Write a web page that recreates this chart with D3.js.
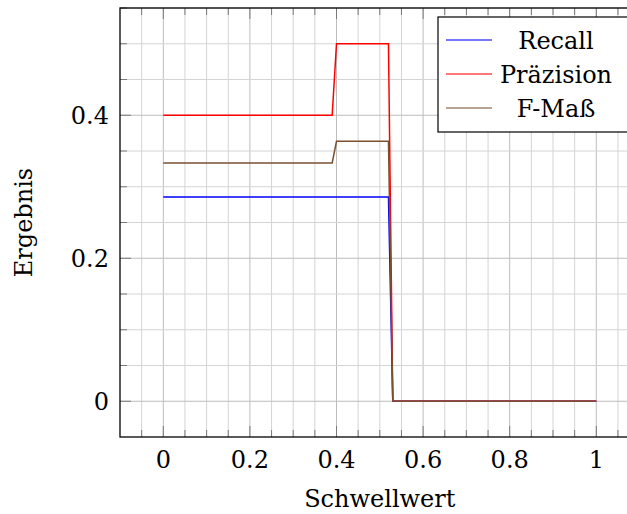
<!DOCTYPE html>
<html>
<head>
<meta charset="utf-8">
<script src="https://cdn.jsdelivr.net/npm/d3@7"></script>
<style>
  body { margin: 0; background: #fff; }
  svg text { font-family: "DejaVu Serif", serif; fill: #000; }
</style>
</head>
<body>
<div id="chart"></div>
<script>
// Schwellwert breakpoints and series values
const thresholds = [0, 0.39, 0.40, 0.52, 0.53, 1];
const recall = [0.2857, 0.2857, 0.2857, 0.2857, 0, 0];
const precision = [0.4, 0.4, 0.5, 0.5, 0, 0];
const fMeasure = [0.3333, 0.3333, 0.3636, 0.3636, 0, 0];

const xTicks = [0, 0.2, 0.4, 0.6, 0.8, 1];
const yTicks = [0, 0.2, 0.4];
const seriesNames = ["Recall", "Präzision", "F-Maß"];
const seriesColors = ["#0000ff", "#ff0000", "#7a5030"];

const width = 627;
const height = 514;
const plotLeft = 120, plotTop = 8, plotBottom = 437;

const xScale = d3.scaleLinear().domain([-0.1, 1.1]).range([plotLeft, plotLeft + 433 * 1.2]);
const yScale = d3.scaleLinear().domain([-0.05, 0.55]).range([plotBottom, plotTop]);
const plotRight = xScale(1.1);

const svg = d3.select("#chart").append("svg")
  .attr("width", width)
  .attr("height", height);

// minor + major grid every 0.05
const xMinor = d3.range(-0.05, 1.1, 0.05).map((d) => +d.toFixed(2));
const yMinor = d3.range(-0.05, 0.55, 0.05).map((d) => +d.toFixed(2)).filter((d) => d > -0.05);
const isMajor = (d) => Math.abs(d / 0.2 - Math.round(d / 0.2)) < 1e-6;

const grid = svg.append("g").attr("class", "grid");
grid.selectAll(".vg").data(xMinor).enter().append("line")
  .attr("x1", (d) => xScale(d)).attr("x2", (d) => xScale(d))
  .attr("y1", plotTop).attr("y2", plotBottom)
  .attr("stroke", (d) => isMajor(d) ? "#bdbdbd" : "#d4d4d4")
  .attr("stroke-width", 1);
grid.selectAll(".hg").data(yMinor).enter().append("line")
  .attr("x1", plotLeft).attr("x2", plotRight)
  .attr("y1", (d) => yScale(d)).attr("y2", (d) => yScale(d))
  .attr("stroke", (d) => isMajor(d) ? "#bdbdbd" : "#d4d4d4")
  .attr("stroke-width", 1);

// inward ticks
const ticks = svg.append("g").attr("stroke", "#7a7a7a").attr("stroke-width", 1);
xMinor.forEach((d) => {
  const len = isMajor(d) ? 11 : 7;
  ticks.append("line").attr("x1", xScale(d)).attr("x2", xScale(d))
    .attr("y1", plotBottom).attr("y2", plotBottom - len);
  ticks.append("line").attr("x1", xScale(d)).attr("x2", xScale(d))
    .attr("y1", plotTop).attr("y2", plotTop + len);
});
yMinor.forEach((d) => {
  const len = isMajor(d) ? 11 : 7;
  ticks.append("line").attr("x1", plotLeft).attr("x2", plotLeft + len)
    .attr("y1", yScale(d)).attr("y2", yScale(d));
});

// lines
const line = d3.line()
  .x((d) => xScale(d[0]))
  .y((d) => yScale(d[1]));

[recall, precision, fMeasure].forEach((vals, i) => {
  svg.append("path")
    .datum(thresholds.map((t, j) => [t, vals[j]]))
    .attr("d", line)
    .attr("fill", "none")
    .attr("stroke", seriesColors[i])
    .attr("stroke-width", 1.5);
});

// axis frame
svg.append("rect")
  .attr("x", plotLeft).attr("y", plotTop)
  .attr("width", plotRight - plotLeft).attr("height", plotBottom - plotTop)
  .attr("fill", "none").attr("stroke", "#000").attr("stroke-width", 1.3);

// tick labels
svg.append("g").selectAll("text").data(xTicks).enter().append("text")
  .attr("x", (d) => xScale(d))
  .attr("y", 468)
  .attr("text-anchor", "middle")
  .style("font-size", "24px")
  .text((d) => d === 0 || d === 1 ? d : d.toFixed(1));

svg.append("g").selectAll("text").data(yTicks).enter().append("text")
  .attr("x", 109)
  .attr("y", (d) => yScale(d) + 9)
  .attr("text-anchor", "end")
  .style("font-size", "24px")
  .text((d) => d === 0 ? "0" : d.toFixed(1));

// axis labels
svg.append("text")
  .attr("x", xScale(0.5)).attr("y", 507)
  .attr("text-anchor", "middle")
  .style("font-size", "24px")
  .text("Schwellwert");

svg.append("text")
  .attr("transform", `translate(32, ${yScale(0.25)}) rotate(-90)`)
  .attr("text-anchor", "middle")
  .style("font-size", "24px")
  .text("Ergebnis");

// legend
const legend = svg.append("g");
legend.append("rect")
  .attr("x", 438).attr("y", 17)
  .attr("width", 210).attr("height", 115)
  .attr("fill", "#fff").attr("stroke", "#000").attr("stroke-width", 1.2);

seriesNames.forEach((name, i) => {
  const cy = 40 + i * 34;
  legend.append("line")
    .attr("x1", 446).attr("x2", 492)
    .attr("y1", cy).attr("y2", cy)
    .attr("stroke", seriesColors[i]).attr("stroke-width", 1.5)
    .attr("opacity", 0.7);
  legend.append("text")
    .attr("x", 556).attr("y", cy + 9)
    .attr("text-anchor", "middle")
    .style("font-size", "24px")
    .text(name);
});
</script>
</body>
</html>
